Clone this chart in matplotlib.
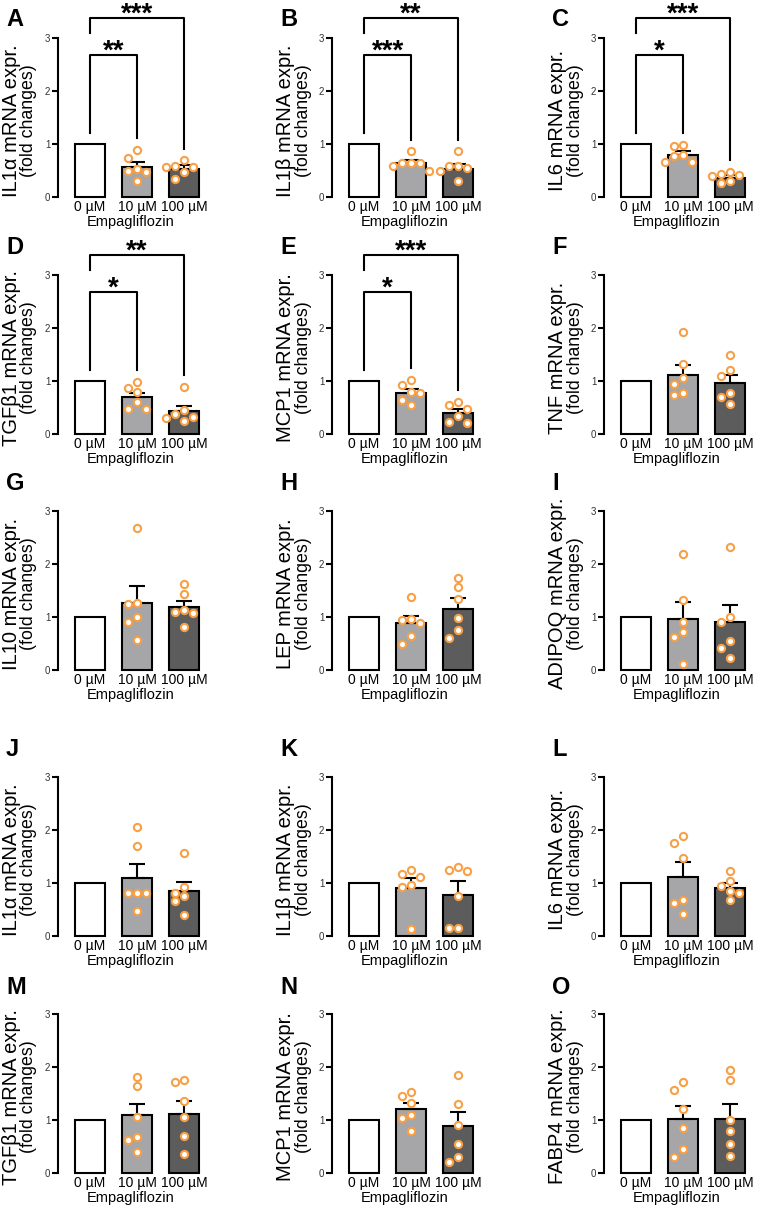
import matplotlib
matplotlib.use("Agg")
import matplotlib.pyplot as plt
import numpy as np

plt.rcParams['font.family'] = ['Liberation Sans', 'DejaVu Sans']

letters = list("ABCDEFGHIJKLMNO")
genes = ["IL1α", "IL1β", "IL6", "TGFβ1", "MCP1", "TNF", "IL10", "LEP", "ADIPOQ",
         "IL1α", "IL1β", "IL6", "TGFβ1", "MCP1", "FABP4"]
doses = ["0 µM", "10 µM", "100 µM"]
drug = "Empagliflozin"

# bar heights (0, 10, 100 µM) and SEM (upper error only)
means = [[1, 0.56, 0.52], [1, 0.64, 0.53], [1, 0.80, 0.36],
         [1, 0.69, 0.43], [1, 0.77, 0.40], [1, 1.11, 0.96],
         [1, 1.27, 1.18], [1, 0.89, 1.16], [1, 0.97, 0.90],
         [1, 1.09, 0.84], [1, 0.91, 0.78], [1, 1.11, 0.91],
         [1, 1.10, 1.12], [1, 1.20, 0.88], [1, 1.02, 1.02]]
sems = [[0, 0.10, 0.08], [0, 0.06, 0.09], [0, 0.06, 0.05],
        [0, 0.09, 0.10], [0, 0.08, 0.08], [0, 0.20, 0.16],
        [0, 0.32, 0.13], [0, 0.13, 0.19], [0, 0.31, 0.32],
        [0, 0.27, 0.17], [0, 0.18, 0.25], [0, 0.28, 0.09],
        [0, 0.20, 0.23], [0, 0.12, 0.27], [0, 0.25, 0.28]]

pts_10 = [[0.89, 0.74, 0.52, 0.47, 0.49, 0.30],
          [0.86, 0.64, 0.64, 0.65, 0.58, 0.50],
          [0.96, 0.99, 0.80, 0.77, 0.66, 0.66],
          [0.99, 0.87, 0.80, 0.60, 0.48, 0.48],
          [1.02, 0.92, 0.80, 0.78, 0.65, 0.55],
          [1.92, 1.32, 1.05, 0.94, 0.78, 0.74],
          [2.68, 1.27, 1.25, 1.00, 0.91, 0.57],
          [1.38, 0.97, 0.95, 0.89, 0.65, 0.50],
          [2.18, 1.32, 0.90, 0.72, 0.62, 0.12],
          [2.06, 1.69, 0.82, 0.81, 0.82, 0.48],
          [1.25, 1.17, 1.12, 0.97, 0.93, 0.14],
          [1.89, 1.75, 1.47, 0.68, 0.62, 0.42],
          [1.81, 1.64, 1.05, 0.68, 0.62, 0.40],
          [1.53, 1.45, 1.32, 1.10, 1.03, 0.80],
          [1.72, 1.57, 1.20, 0.85, 0.45, 0.30]]
pts_100 = [[0.69, 0.58, 0.57, 0.56, 0.47, 0.34],
           [0.86, 0.59, 0.58, 0.55, 0.50, 0.30],
           [0.48, 0.44, 0.41, 0.39, 0.30, 0.26],
           [0.89, 0.45, 0.37, 0.33, 0.30, 0.24],
           [0.61, 0.55, 0.47, 0.34, 0.22, 0.21],
           [1.50, 1.21, 1.10, 0.78, 0.70, 0.56],
           [1.63, 1.43, 1.13, 1.08, 1.09, 0.82],
           [1.74, 1.57, 1.34, 0.99, 0.75, 0.60],
           [2.32, 1.00, 0.91, 0.55, 0.42, 0.22],
           [1.57, 0.92, 0.82, 0.75, 0.66, 0.40],
           [1.31, 1.25, 1.22, 0.76, 0.15, 0.15],
           [1.22, 1.03, 0.95, 0.84, 0.81, 0.68],
           [1.75, 1.72, 1.35, 1.05, 0.70, 0.35],
           [1.85, 1.30, 0.90, 0.55, 0.30, 0.20],
           [1.95, 1.75, 1.00, 0.80, 0.55, 0.32]]

# significance vs 0 µM: (10 µM, 100 µM)
stars = {0: ("**", "***"), 1: ("***", "**"), 2: ("*", "***"),
         3: ("*", "**"), 4: ("*", "***")}

bar_colors = ["white", "#a6a6a9", "#5c5c5c"]
dot_color = "#f7a046"

W, H = 759, 1209
fig = plt.figure(figsize=(W / 100, H / 100), dpi=100)

col_x = [58, 332, 604]           # y-spine position (px)
row_top = [38, 275, 511, 777, 1014]  # y=3 position (px)
ax_w, ax_h = 145, 159
xlim = (-0.68, 2.4)


def swarm(vals, step=0.19):
    # place points of one group side by side when they would overlap
    order = np.argsort(vals)[::-1]
    placed = []
    offs = np.zeros(len(vals))
    cands = [0, -step, step, -2 * step, 2 * step, -3 * step, 3 * step]
    for i in order:
        for c in cands:
            ok = True
            for j, cx in placed:
                if abs((vals[i] - vals[j]) * 53) < 8 and abs((c - cx) * 47) < 8:
                    ok = False
                    break
            if ok:
                offs[i] = c
                placed.append((i, c))
                break
    return offs


for k in range(15):
    r, c = divmod(k, 3)
    x0, yt = col_x[c], row_top[r]
    ax = fig.add_axes([x0 / W, 1 - (yt + ax_h) / H, ax_w / W, ax_h / H])
    xs = np.arange(3)
    ax.bar(xs, means[k], width=0.64, color=bar_colors, edgecolor="black",
           linewidth=1.5, clip_on=False, zorder=2)
    for i in (1, 2):
        ax.errorbar(xs[i], means[k][i], yerr=[[0], [sems[k][i]]], fmt="none",
                    ecolor="black", elinewidth=1.5, capsize=5.5, capthick=1.5,
                    zorder=3)
    for i, pts in ((1, pts_10[k]), (2, pts_100[k])):
        v = np.array(pts)
        ax.plot(xs[i] + swarm(v), v, "o", ms=5.2, mfc="white", mec=dot_color,
                mew=1.5, zorder=4, clip_on=False)

    ax.set_xlim(*xlim)
    ax.set_ylim(0, 3)
    ax.set_yticks([0, 1, 2, 3])
    ax.set_xticks(xs)
    ax.set_xticklabels(doses, fontsize=10)
    ax.tick_params(axis="x", length=0, pad=2)
    ax.tick_params(axis="y", length=4, width=1.5, labelsize=7,
                   labelcolor="#333333", pad=1.5)
    for s in ("top", "right", "bottom"):
        ax.spines[s].set_visible(False)
    ax.spines["left"].set_linewidth(1.5)
    ax.set_xlabel(drug, fontsize=10.5, labelpad=1)
    # two-line y label, first line a little larger as in the figure
    ax.text(-0.324, 0.48, f"{genes[k]} mRNA expr.", transform=ax.transAxes,
            rotation=90, ha="center", va="center", fontsize=14.5)
    ax.text(-0.20, 0.48, "(fold changes)", transform=ax.transAxes,
            rotation=90, ha="center", va="center", fontsize=12.8)

    if k in stars:
        s10, s100 = stars[k]
        lo_top, hi_top, hi_start = 2.67, 3.38, 3.09
        ax.plot([0, 0, 1, 1], [1.2, lo_top, lo_top, max(pts_10[k]) + 0.22],
                color="black", lw=1.5, clip_on=False)
        ax.plot([0, 0, 2, 2], [hi_start, hi_top, hi_top, max(pts_100[k]) + 0.22],
                color="black", lw=1.5, clip_on=False)
        ax.annotate(s10, xy=(0.5, lo_top), xytext=(0, -2),
                    textcoords="offset points", ha="center", va="baseline",
                    fontsize=20, fontweight="bold", annotation_clip=False)
        ax.annotate(s100, xy=(1.0, hi_top), xytext=(0, -2.5),
                    textcoords="offset points", ha="center", va="baseline",
                    fontsize=20, fontweight="bold", annotation_clip=False)

    ly = 20 if r == 0 else yt - 27
    fig.text((x0 - 52) / W, 1 - ly / H, letters[k], fontsize=17,
             fontweight="bold", ha="left", va="center")

fig.savefig("out.png", dpi=100)
